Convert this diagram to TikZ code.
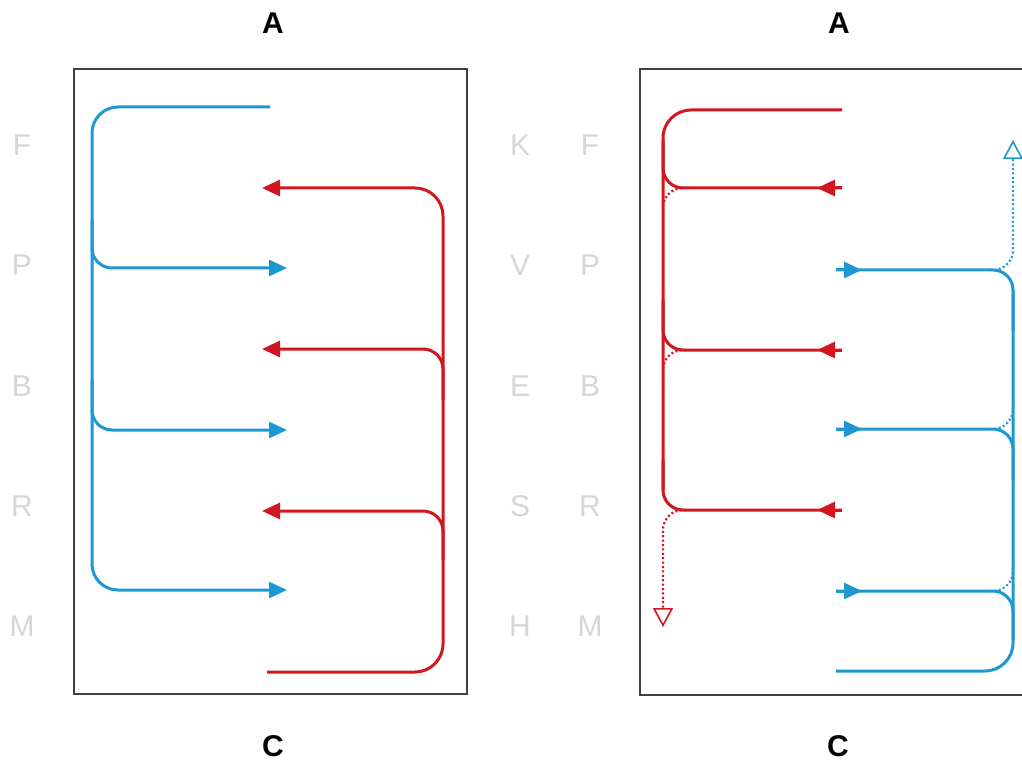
\documentclass[tikz,border=0pt]{standalone}
\usepackage{fontspec}
\setmainfont{Liberation Sans}
\usetikzlibrary{arrows.meta}

\definecolor{flowblue}{HTML}{1E98D2}
\definecolor{flowred}{HTML}{D2161F}
\definecolor{rowgray}{HTML}{D6D6D6}
\definecolor{framegray}{HTML}{404040}

\tikzset{
  frame/.style={draw=framegray, line width=1.6pt},
  blueflow/.style={draw=flowblue, line width=3pt},
  redflow/.style={draw=flowred, line width=3pt},
  bluedots/.style={draw=flowblue, line width=2.2pt, dash pattern=on 2pt off 2.4pt},
  reddots/.style={draw=flowred, line width=2.2pt, dash pattern=on 2pt off 2.4pt},
  fullhead/.style={-{Triangle[length=18pt, width=16pt]}},
  openhead/.style={-{Triangle[open, length=19pt, width=20pt, line width=1.6pt]}},
  rowlabel/.style={text=rowgray, font=\fontsize{30}{30}\selectfont},
  sidelabel/.style={font=\bfseries\fontsize{30}{30}\selectfont}
}

\begin{document}
\begin{tikzpicture}[x=1pt, y=-1pt]

    \clip (0,0) rectangle (1022,767);
    \fill[white] (0,0) rectangle (1022,767);

    % Declare the frames
    \draw[frame] (74,69) rectangle (467,694);
    \draw[frame] (640,69) rectangle (1034,695);

    % Declare the side labels
    \node[sidelabel] at (273,23) (aL) {A};
    \node[sidelabel] at (273,746) (cL) {C};
    \node[sidelabel] at (839,23) (aR) {A};
    \node[sidelabel] at (838,746) (cR) {C};

    % Declare the row letters
    \node[rowlabel] at (22,145) (fL) {F};
    \node[rowlabel] at (22,265) (pL) {P};
    \node[rowlabel] at (22,386) (bL) {B};
    \node[rowlabel] at (22,506) (rL) {R};
    \node[rowlabel] at (22,626) (mL) {M};
    \node[rowlabel] at (520,145) (kR) {K};
    \node[rowlabel] at (520,265) (vR) {V};
    \node[rowlabel] at (520,386) (eR) {E};
    \node[rowlabel] at (520,506) (sR) {S};
    \node[rowlabel] at (520,626) (hR) {H};
    \node[rowlabel] at (590,145) (fR) {F};
    \node[rowlabel] at (590,265) (pR) {P};
    \node[rowlabel] at (590,386) (bR) {B};
    \node[rowlabel] at (590,506) (rR) {R};
    \node[rowlabel] at (590,626) (mR) {M};

    % Declare the flow ends
    \coordinate (bl0) at (270,107);
    \coordinate (bl1) at (287,268);
    \coordinate (bl2) at (287,430);
    \coordinate (bl3) at (287,590);
    \coordinate (rl0) at (267,672);
    \coordinate (rl1) at (262,188);
    \coordinate (rl2) at (262,349);
    \coordinate (rl3) at (262,511);
    \coordinate (rr0) at (842,110);
    \coordinate (rr1) at (842,188);
    \coordinate (rr2) at (842,350);
    \coordinate (rr3) at (842,510);
    \coordinate (rrx) at (663,627);
    \coordinate (bb0) at (836,671);
    \coordinate (bb1) at (836,270);
    \coordinate (bb2) at (836,429);
    \coordinate (bb3) at (836,591);
    \coordinate (bbx) at (1013,140);

    % Left frame, blue
    \draw[blueflow, fullhead, rounded corners=26pt] (bl0) -| (92,590) -- (bl3);
    \draw[blueflow, fullhead, rounded corners=20pt] (92,220) |- (bl1);
    \draw[blueflow, fullhead, rounded corners=20pt] (92,380) |- (bl2);

    % Left frame, red
    \draw[redflow, fullhead, rounded corners=28pt] (rl0) -| (443,188) -- (rl1);
    \draw[redflow, fullhead, rounded corners=20pt] (443,400) |- (rl2);
    \draw[redflow, fullhead, rounded corners=20pt] (443,560) |- (rl3);

    % Right frame, red
    \draw[redflow, rounded corners=28pt] (rr0) -| (663,490);
    \draw[redflow, rounded corners=20pt] (663,140) |- (rr1);
    \draw[redflow, rounded corners=20pt] (663,300) |- (rr2);
    \draw[redflow, rounded corners=20pt] (663,460) |- (rr3);
    \draw[redflow, fullhead] (rr1) -- ++(-25,0);
    \draw[redflow, fullhead] (rr2) -- ++(-25,0);
    \draw[redflow, fullhead] (rr3) -- ++(-25,0);
    \draw[reddots, rounded corners=20pt] (686,188) -| (663,214);
    \draw[reddots, rounded corners=20pt] (686,350) -| (663,376);
    \draw[reddots, openhead, rounded corners=20pt] (686,510) -| (rrx);

    % Right frame, blue
    \draw[blueflow, rounded corners=28pt] (bb0) -| (1013,290);
    \draw[blueflow, rounded corners=20pt] (1013,330) |- (bb1);
    \draw[blueflow, rounded corners=20pt] (1013,480) |- (bb2);
    \draw[blueflow, rounded corners=20pt] (1013,640) |- (bb3);
    \draw[blueflow, fullhead] (bb1) -- ++(26,0);
    \draw[blueflow, fullhead] (bb2) -- ++(26,0);
    \draw[blueflow, fullhead] (bb3) -- ++(26,0);
    \draw[bluedots, rounded corners=20pt] (990,429) -| (1013,403);
    \draw[bluedots, rounded corners=20pt] (990,591) -| (1013,565);
    \draw[bluedots, openhead, rounded corners=20pt] (990,270) -| (bbx);

\end{tikzpicture}
\end{document}
